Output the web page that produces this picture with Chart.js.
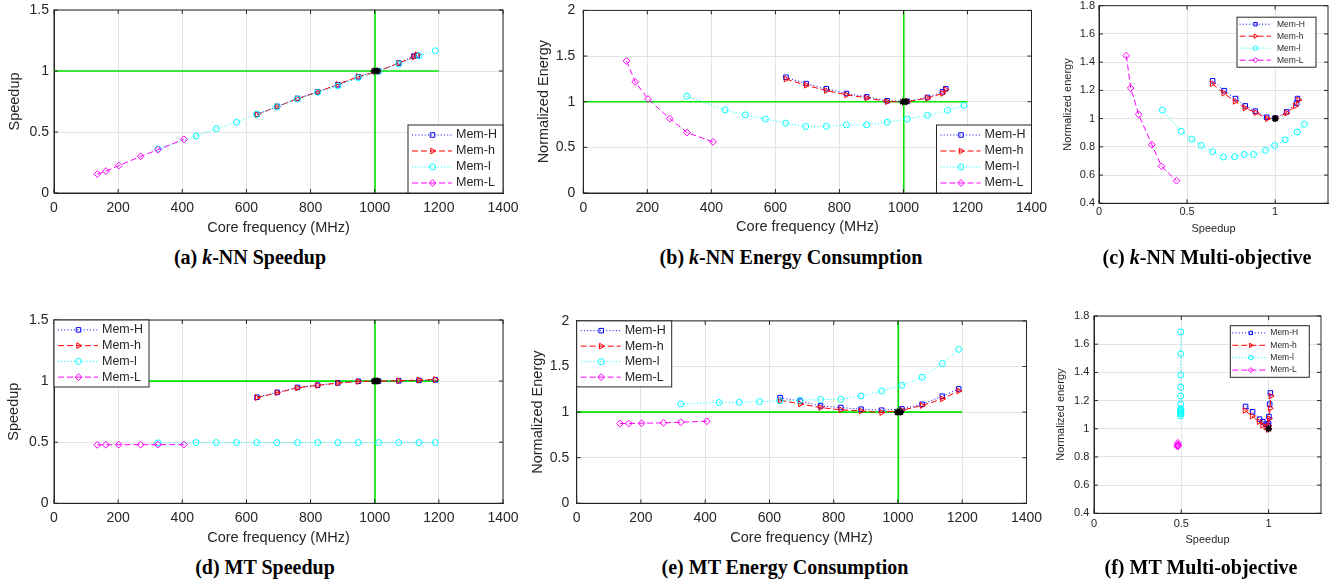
<!DOCTYPE html>
<html>
<head>
<meta charset="utf-8">
<script src="https://cdn.jsdelivr.net/npm/chart.js@4.4.1/dist/chart.umd.min.js"></script>
<style>
  html, body { margin: 0; padding: 0; background: #fff; overflow: hidden; }
  body { width: 1330px; height: 582px; position: relative; }
  canvas { position: absolute; }
  .cap { position: absolute; transform: translate(-50%, -50%); white-space: nowrap; line-height: 1;
         font: bold 20px "Liberation Serif", "DejaVu Serif", serif; color: #000; }
</style>
</head>
<body>
<canvas id="cA"></canvas>
<canvas id="cB"></canvas>
<canvas id="cC"></canvas>
<canvas id="cD"></canvas>
<canvas id="cE"></canvas>
<canvas id="cF"></canvas>
<div class="cap" style="left:250px;top:257px">(a) <i>k</i>-NN Speedup</div>
<div class="cap" style="left:791px;top:257px">(b) <i>k</i>-NN Energy Consumption</div>
<div class="cap" style="left:1207px;top:257px">(c) <i>k</i>-NN Multi-objective</div>
<div class="cap" style="left:265px;top:567px">(d) MT Speedup</div>
<div class="cap" style="left:785px;top:567px">(e) MT Energy Consumption</div>
<div class="cap" style="left:1201px;top:567px">(f) MT Multi-objective</div>
<script>
// core frequencies (MHz) for each memory clock
const freqL = [135, 162, 202, 270, 324, 405];
const freqLow = [324, 443, 506, 569, 632, 695, 759, 822, 885, 949, 1012, 1075, 1138, 1189];
const freqHknn = [633, 696, 759, 822, 885, 949, 1012, 1075, 1122, 1132];
const freqHmt = [633, 696, 759, 822, 885, 949, 1012, 1075, 1138, 1189];

// k-NN speedup
const spdH_knn = [0.645, 0.71, 0.775, 0.83, 0.887, 0.952, 1.0, 1.065, 1.122, 1.127];
const spdh_knn = [0.642, 0.708, 0.772, 0.828, 0.89, 0.955, 1.0, 1.065, 1.114, 1.133];
const spdl_knn = [0.36, 0.467, 0.527, 0.58, 0.645, 0.707, 0.77, 0.825, 0.877, 0.945, 0.997, 1.057, 1.125, 1.166];
const spdL_knn = [0.155, 0.18, 0.225, 0.30, 0.355, 0.44];

// k-NN normalized energy
const enH_knn = [1.268, 1.198, 1.142, 1.09, 1.053, 1.01, 1.004, 1.047, 1.108, 1.142];
const enh_knn = [1.248, 1.18, 1.122, 1.075, 1.042, 1.0, 1.0, 1.04, 1.09, 1.132];
const enl_knn = [1.06, 0.91, 0.855, 0.81, 0.766, 0.728, 0.73, 0.746, 0.746, 0.775, 0.81, 0.85, 0.905, 0.96];
const enL_knn = [1.446, 1.217, 1.03, 0.815, 0.662, 0.56];

// MT speedup
const spdH_mt = [0.868, 0.908, 0.948, 0.967, 0.985, 0.998, 1.0, 1.002, 1.006, 1.01];
const spdh_mt = [0.864, 0.905, 0.945, 0.965, 0.984, 0.997, 1.0, 1.003, 1.008, 1.013];
const spdl_mt = [0.495, 0.497, 0.497, 0.497, 0.497, 0.497, 0.497, 0.497, 0.497, 0.497, 0.497, 0.497, 0.497, 0.497];
const spdL_mt = [0.478, 0.479, 0.48, 0.48, 0.48, 0.48];

// MT normalized energy
const enH_mt = [1.158, 1.12, 1.068, 1.05, 1.032, 1.021, 1.035, 1.086, 1.174, 1.254];
const enh_mt = [1.13, 1.09, 1.05, 1.025, 1.013, 0.995, 1.02, 1.072, 1.145, 1.232];
const enl_mt = [1.09, 1.105, 1.108, 1.115, 1.123, 1.13, 1.138, 1.141, 1.177, 1.232, 1.294, 1.382, 1.532, 1.688];
const enL_mt = [0.875, 0.875, 0.878, 0.882, 0.889, 0.90];

// default setting (black star) and green reference lines
const baseFreq = [998, 1008];
const baseVal = [1, 1];
const baseSpd = [1];
const baseEn = [1];
const refH_x = [0, 1200];
const refH_y = [1, 1];
const refV_x = [1001, 1001];
const refVspd_y = [0, 1.5];
const refVen_y = [0, 2];

// tick labels
const freqTicks = [0, 200, 400, 600, 800, 1000, 1200, 1400];
const speedTicks = [0, 0.5, 1, 1.5];
const energyTicks = [0, 0.5, 1, 1.5, 2];
const moSpeedTicks = [0, 0.5, 1];
const moEnergyTicks = [0.4, 0.6, 0.8, 1, 1.2, 1.4, 1.6, 1.8];

const memStyle = {
  H: { label: 'Mem-H', color: '#0000ff', dash: [1, 2.2], point: 'rect', r: 3.2, rot: 0, order: 4 },
  h: { label: 'Mem-h', color: '#ff0000', dash: [6, 3], point: 'triangle', r: 3.3, rot: 90, order: 3 },
  l: { label: 'Mem-l', color: '#00ffff', dash: [1, 2.2], point: 'circle', r: 3, rot: 0, order: 2 },
  L: { label: 'Mem-L', color: '#ff00ff', dash: [6, 3], point: 'rectRot', r: 3.4, rot: 0, order: 1 }
};

function pts(xs, ys) {
  return xs.map((x, i) => ({ x: x, y: ys[i] }));
}

function serie(key, xs, ys) {
  const s = memStyle[key];
  return {
    label: s.label, memKey: key, data: pts(xs, ys), order: s.order,
    showLine: true, borderColor: s.color, borderWidth: 1, borderDash: s.dash,
    pointStyle: s.point, pointRadius: s.r, pointRotation: s.rot,
    pointBorderColor: s.color, pointBackgroundColor: 'rgba(0,0,0,0)', pointBorderWidth: 1
  };
}

function stars(xs, ys) {
  return {
    label: '', data: pts(xs, ys), order: 0, showLine: false,
    pointStyle: 'star', pointRadius: 3.5, pointBorderColor: '#000', pointBorderWidth: 1.6,
    pointBackgroundColor: '#000'
  };
}

function green(xs, ys) {
  return {
    label: '', data: pts(xs, ys), order: 9, showLine: true,
    borderColor: 'rgb(0,230,0)', borderWidth: 1.6, pointRadius: 0
  };
}

const sans = '"Liberation Sans", Arial, Helvetica, sans-serif';

function panel(id, p) {
  const cv = document.getElementById(id);
  const a = p.area;
  const lhT = p.title * 1.2, lhK = p.tick * 1.2;
  const L = Math.round(a.l - 60), T = Math.round(a.t - 16);
  const W = Math.round(a.r + 26 - L);
  const H = Math.round(p.xTitleY + lhT / 2 - T);
  const pl = p.yTitleX - L - lhT / 2;
  const yW = a.l - L - pl;
  const xH = H - (a.b - T);
  cv.style.left = L + 'px';
  cv.style.top = T + 'px';
  cv.width = W; cv.height = H;
  cv.style.width = W + 'px'; cv.style.height = H + 'px';

  const lg = p.legend;
  const frame = {
    id: 'frame_' + id,
    afterDraw(chart) {
      const ctx = chart.ctx, c = chart.chartArea, sx = chart.scales.x, sy = chart.scales.y;
      ctx.save();
      ctx.strokeStyle = '#262626';
      ctx.lineWidth = 1;
      ctx.setLineDash([]);
      ctx.strokeRect(c.left, c.top, c.right - c.left, c.bottom - c.top);
      ctx.beginPath();
      sx.ticks.forEach(t => {
        const px = sx.getPixelForValue(t.value);
        ctx.moveTo(px, c.bottom); ctx.lineTo(px, c.bottom - 4);
        ctx.moveTo(px, c.top); ctx.lineTo(px, c.top + 4);
      });
      sy.ticks.forEach(t => {
        const py = sy.getPixelForValue(t.value);
        ctx.moveTo(c.left, py); ctx.lineTo(c.left + 4, py);
        ctx.moveTo(c.right, py); ctx.lineTo(c.right - 4, py);
      });
      ctx.stroke();

      // legend box inside the axes
      const bx = lg.corner[1] === 'r' ? c.right - lg.dx - lg.w : c.left + lg.dx;
      const by = lg.corner[0] === 'b' ? c.bottom - lg.dy - lg.h : c.top + lg.dy;
      ctx.fillStyle = '#fff';
      ctx.fillRect(bx, by, lg.w, lg.h);
      ctx.strokeStyle = '#262626';
      ctx.strokeRect(bx, by, lg.w, lg.h);
      const items = chart.data.datasets.filter(d => d.memKey);
      const rowH = (lg.h - 2 * lg.pad) / items.length;
      items.forEach((d, i) => {
        const y = by + lg.pad + (i + 0.5) * rowH;
        ctx.save();
        ctx.strokeStyle = d.borderColor;
        ctx.lineWidth = 1;
        ctx.setLineDash(d.borderDash);
        ctx.beginPath();
        ctx.moveTo(bx + lg.s0, y);
        ctx.lineTo(bx + lg.s1, y);
        ctx.stroke();
        ctx.setLineDash([]);
        ctx.fillStyle = 'rgba(0,0,0,0)';
        if (Chart.helpers && Chart.helpers.drawPoint) {
          Chart.helpers.drawPoint(ctx, { pointStyle: d.pointStyle, radius: d.pointRadius * lg.ms,
            rotation: d.pointRotation, borderWidth: 1 }, bx + lg.mk, y);
        }
        ctx.restore();
        ctx.fillStyle = '#262626';
        ctx.font = lg.font + 'px ' + sans;
        ctx.textBaseline = 'middle';
        ctx.textAlign = 'left';
        ctx.fillText(d.label, bx + lg.tx, y);
      });
      ctx.restore();
    }
  };

  const tickFont = { family: sans, size: p.tick, lineHeight: 1.2 };
  const titleFont = { family: sans, size: p.title, lineHeight: 1.2 };

  new Chart(cv, {
    type: 'scatter',
    data: { datasets: p.datasets },
    options: {
      responsive: false,
      animation: false,
      devicePixelRatio: 1,
      layout: { padding: { left: pl, top: a.t - T, right: W - (a.r - L), bottom: 0 } },
      plugins: { legend: { display: false }, tooltip: { enabled: false } },
      scales: {
        x: {
          type: 'linear', min: p.xMin, max: p.xMax,
          afterBuildTicks: s => { s.ticks = p.xTicks.map(v => ({ value: v })); },
          afterFit: s => { s.height = xH; },
          grid: { color: '#e4e4e4', drawTicks: false },
          border: { color: '#262626', width: 1 },
          ticks: { font: tickFont, color: '#262626', padding: p.xTickY - a.b - lhK / 2,
                   maxRotation: 0, autoSkip: false, callback: v => String(v) },
          title: { display: true, text: p.xTitle, font: titleFont, color: '#262626', padding: 0 }
        },
        y: {
          type: 'linear', min: p.yMin, max: p.yMax,
          afterBuildTicks: s => { s.ticks = p.yTicks.map(v => ({ value: v })); },
          afterFit: s => { s.width = yW; },
          grid: { color: '#e4e4e4', drawTicks: false },
          border: { color: '#262626', width: 1 },
          ticks: { font: tickFont, color: '#262626', padding: p.yGap, autoSkip: false,
                   callback: v => String(v) },
          title: { display: true, text: p.yTitle, font: titleFont, color: '#262626', padding: 0 }
        }
      }
    },
    plugins: [frame]
  });
}

const bigLegend = { w: 95, h: 68, pad: 2, s0: 4, s1: 44, mk: 24.5, tx: 48, font: 12.5, ms: 1, dx: 0, dy: 0 };

// (a) k-NN speedup
panel('cA', {
  area: { l: 54, r: 503, t: 10, b: 193 },
  xMin: 0, xMax: 1400, yMin: 0, yMax: 1.5, xTicks: freqTicks, yTicks: speedTicks,
  xTitle: 'Core frequency (MHz)', yTitle: 'Speedup',
  yTitleX: 14.5, yGap: 5, xTickY: 208, xTitleY: 228, tick: 14, title: 14.5,
  legend: Object.assign({}, bigLegend, { corner: 'br' }),
  datasets: [
    serie('H', freqHknn, spdH_knn), serie('h', freqHknn, spdh_knn),
    serie('l', freqLow, spdl_knn), serie('L', freqL, spdL_knn),
    stars(baseFreq, baseVal), green(refH_x, refH_y), green(refV_x, refVspd_y)
  ]
});

// (b) k-NN energy
panel('cB', {
  area: { l: 583.3, r: 1031.5, t: 10, b: 193 },
  xMin: 0, xMax: 1400, yMin: 0, yMax: 2, xTicks: freqTicks, yTicks: energyTicks,
  xTitle: 'Core frequency (MHz)', yTitle: 'Normalized Energy',
  yTitleX: 544, yGap: 8, xTickY: 208.3, xTitleY: 227.7, tick: 14, title: 14.5,
  legend: Object.assign({}, bigLegend, { corner: 'br' }),
  datasets: [
    serie('H', freqHknn, enH_knn), serie('h', freqHknn, enh_knn),
    serie('l', freqLow, enl_knn), serie('L', freqL, enL_knn),
    stars(baseFreq, baseVal), green(refH_x, refH_y), green(refV_x, refVen_y)
  ]
});

// (c) k-NN multi-objective
panel('cC', {
  area: { l: 1099, r: 1328, t: 5.7, b: 203.3 },
  xMin: 0, xMax: 1.3, yMin: 0.4, yMax: 1.8, xTicks: moSpeedTicks, yTicks: moEnergyTicks,
  xTitle: 'Speedup', yTitle: 'Normalized energy',
  yTitleX: 1068.3, yGap: 4, xTickY: 212.3, xTitleY: 229.3, tick: 11, title: 11,
  legend: { corner: 'tr', w: 79, h: 50, pad: 1, s0: 2.6, s1: 34, mk: 18.5, tx: 40, font: 8.5, ms: 0.75, dx: 12, dy: 11.5 },
  datasets: [
    serie('H', spdH_knn, enH_knn), serie('h', spdh_knn, enh_knn),
    serie('l', spdl_knn, enl_knn), serie('L', spdL_knn, enL_knn),
    stars(baseSpd, baseEn)
  ]
});

// (d) MT speedup
panel('cD', {
  area: { l: 54, r: 503, t: 320, b: 503.3 },
  xMin: 0, xMax: 1400, yMin: 0, yMax: 1.5, xTicks: freqTicks, yTicks: speedTicks,
  xTitle: 'Core frequency (MHz)', yTitle: 'Speedup',
  yTitleX: 14, yGap: 5.5, xTickY: 518.3, xTitleY: 538.3, tick: 14, title: 14.5,
  legend: Object.assign({}, bigLegend, { corner: 'tl', h: 67 }),
  datasets: [
    serie('H', freqHmt, spdH_mt), serie('h', freqHmt, spdh_mt),
    serie('l', freqLow, spdl_mt), serie('L', freqL, spdL_mt),
    stars(baseFreq, baseVal), green(refH_x, refH_y), green(refV_x, refVspd_y)
  ]
});

// (e) MT energy
panel('cE', {
  area: { l: 576.7, r: 1026.5, t: 320.7, b: 503.3 },
  xMin: 0, xMax: 1400, yMin: 0, yMax: 2, xTicks: freqTicks, yTicks: energyTicks,
  xTitle: 'Core frequency (MHz)', yTitle: 'Normalized Energy',
  yTitleX: 538.3, yGap: 7.5, xTickY: 518.3, xTitleY: 538.3, tick: 14, title: 14.5,
  legend: Object.assign({}, bigLegend, { corner: 'tl', h: 66 }),
  datasets: [
    serie('H', freqHmt, enH_mt), serie('h', freqHmt, enh_mt),
    serie('l', freqLow, enl_mt), serie('L', freqL, enL_mt),
    stars(baseFreq, baseVal), green(refH_x, refH_y), green(refV_x, refVen_y)
  ]
});

// (f) MT multi-objective
panel('cF', {
  area: { l: 1094, r: 1321, t: 316, b: 513.3 },
  xMin: 0, xMax: 1.3, yMin: 0.4, yMax: 1.8, xTicks: moSpeedTicks, yTicks: moEnergyTicks,
  xTitle: 'Speedup', yTitle: 'Normalized energy',
  yTitleX: 1061, yGap: 4.7, xTickY: 524, xTitleY: 540, tick: 11, title: 11,
  legend: { corner: 'tr', w: 79, h: 51.6, pad: 1, s0: 2, s1: 37, mk: 20.5, tx: 40, font: 8.5, ms: 0.75, dx: 11.7, dy: 9.7 },
  datasets: [
    serie('H', spdH_mt, enH_mt), serie('h', spdh_mt, enh_mt),
    serie('l', spdl_mt, enl_mt), serie('L', spdL_mt, enL_mt),
    stars(baseSpd, baseEn)
  ]
});
</script>
</body>
</html>
